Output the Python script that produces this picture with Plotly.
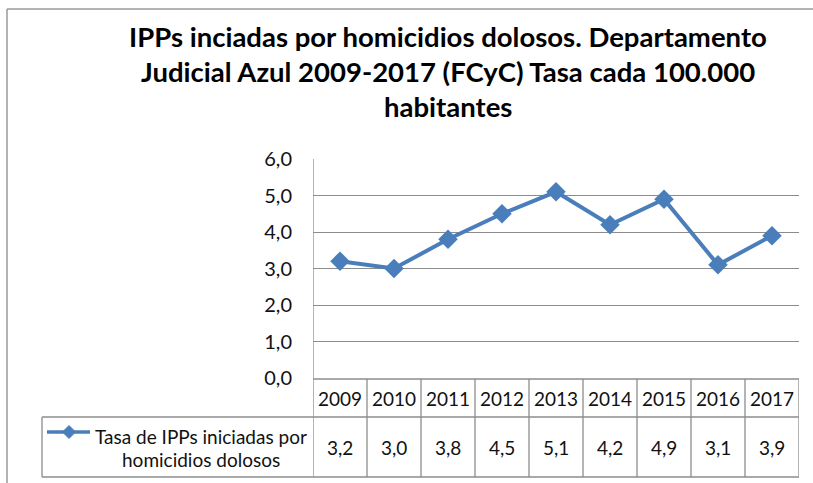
import plotly.graph_objects as go

years = ["2009", "2010", "2011", "2012", "2013", "2014", "2015", "2016", "2017"]
tasa = [3.2, 3.0, 3.8, 4.5, 5.1, 4.2, 4.9, 3.1, 3.9]
series_name_lines = ["Tasa de IPPs iniciadas por", "homicidios dolosos"]
title_lines = [
    "IPPs inciadas por homicidios dolosos. Departamento",
    "Judicial Azul 2009-2017 (FCyC) Tasa cada 100.000",
    "habitantes",
]
y_ticks = [0, 1, 2, 3, 4, 5, 6]

W, H = 813, 483
PL, PR, PT, PB = 313, 799, 159, 378  # plot area in pixels
LINE_COLOR = "#4A7EBB"
GRID = "#8C8C8C"
FONT = "Lato"
TXT = "#111111"


def py(p):
    return (PB - p) / (PB - PT)


def px(p):
    return (p - PL) / (PR - PL)


fig = go.Figure()
fig.add_trace(go.Scatter(
    x=years, y=tasa, mode="lines+markers",
    line=dict(color=LINE_COLOR, width=4),
    marker=dict(symbol="diamond", size=15, color=LINE_COLOR),
    showlegend=False, cliponaxis=False, hoverinfo="skip",
))

shapes = []
annotations = []

# title
for t, yp in zip(title_lines, [37, 72, 106]):
    annotations.append(dict(
        text=t, xref="paper", yref="paper", x=px(448), y=py(yp),
        xanchor="center", yanchor="middle", showarrow=False,
        font=dict(family=FONT, size=27.5, color="#000000", weight="bold"),
    ))

# table lines
hdr_top, hdr_bot, row_bot = 379, 417, 477
lg_left = 42
line_style = dict(color=GRID, width=1.3)
shapes.append(dict(type="line", xref="x", yref="paper", x0=-0.5, x1=-0.5,
                   y0=py(PT), y1=py(row_bot), line=line_style))
for i in range(1, len(years) + 1):
    shapes.append(dict(type="line", xref="x", yref="paper", x0=i - 0.5, x1=i - 0.5,
                       y0=py(hdr_top), y1=py(row_bot), line=line_style))
shapes.append(dict(type="line", xref="x", yref="paper", x0=-0.5, x1=len(years) - 0.5,
                   y0=py(hdr_top), y1=py(hdr_top), line=line_style))
for yy in (hdr_bot, row_bot):
    shapes.append(dict(type="line", xref="paper", yref="paper", x0=px(lg_left), x1=px(PR),
                       y0=py(yy), y1=py(yy), line=line_style))
shapes.append(dict(type="line", xref="paper", yref="paper", x0=px(lg_left), x1=px(lg_left),
                   y0=py(hdr_bot), y1=py(row_bot), line=line_style))

# chart border (left and top)
shapes.append(dict(type="line", xref="paper", yref="paper", x0=px(7), x1=px(7),
                   y0=py(9), y1=py(H + 2), line=dict(color="#9A9A9A", width=1.5)))
shapes.append(dict(type="line", xref="paper", yref="paper", x0=px(7), x1=px(W + 2),
                   y0=py(9), y1=py(9), line=dict(color="#9A9A9A", width=1.5)))

# header & value cells
for i, (yr, v) in enumerate(zip(years, tasa)):
    annotations.append(dict(text=yr, xref="x", yref="paper", x=i, y=py((hdr_top + hdr_bot) / 2),
                            xanchor="center", yanchor="middle", showarrow=False,
                            font=dict(family=FONT, size=19, color=TXT)))
    annotations.append(dict(text=f"{v:.1f}".replace(".", ","), xref="x", yref="paper", x=i,
                            y=py((hdr_bot + row_bot) / 2),
                            xanchor="center", yanchor="middle", showarrow=False,
                            font=dict(family=FONT, size=19, color=TXT)))

# legend key
lk_y = 432
shapes.append(dict(type="line", xref="paper", yref="paper", x0=px(47), x1=px(90),
                   y0=py(lk_y), y1=py(lk_y), line=dict(color=LINE_COLOR, width=3.5)))
d = 6.5
cx = 69
shapes.append(dict(type="path", xref="paper", yref="paper",
                   path=f"M {px(cx)},{py(lk_y - d)} L {px(cx + d)},{py(lk_y)} L {px(cx)},{py(lk_y + d)} L {px(cx - d)},{py(lk_y)} Z",
                   fillcolor=LINE_COLOR, line=dict(color=LINE_COLOR, width=1)))
for t, yp in zip(series_name_lines, [436, 459]):
    annotations.append(dict(text=t, xref="paper", yref="paper", x=px(201), y=py(yp),
                            xanchor="center", yanchor="middle", showarrow=False,
                            font=dict(family=FONT, size=19, color=TXT)))

fig.update_layout(
    width=W, height=H,
    margin=dict(l=PL, r=W - PR, t=PT, b=H - PB, pad=0),
    paper_bgcolor="white", plot_bgcolor="white",
    separators=",.",
    font=dict(family=FONT, size=19, color=TXT),
    xaxis=dict(type="category", categoryorder="array", categoryarray=years,
               range=[-0.5, len(years) - 0.5], showticklabels=False, showgrid=False,
               zeroline=False, showline=False, ticks=""),
    yaxis=dict(range=[0, 6], tickvals=y_ticks, tickformat=".1f", showgrid=True,
               gridcolor=GRID, gridwidth=1.3, zeroline=False, showline=False,
               ticks="", ticklabelstandoff=20,
               tickfont=dict(family=FONT, size=20, color=TXT)),
    shapes=shapes, annotations=annotations,
)

fig.write_html("out.html", config={"displayModeBar": False},
               post_script="document.body.style.margin='0';document.body.style.overflow='hidden';")
